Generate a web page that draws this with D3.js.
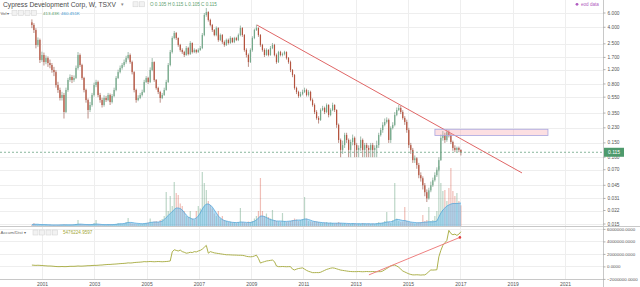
<!DOCTYPE html>
<html><head><meta charset="utf-8">
<script src="https://cdn.jsdelivr.net/npm/d3@7"></script>
<style>html,body{margin:0;padding:0;background:#fff;overflow:hidden}svg{display:block;font-family:"Liberation Sans",Arial,sans-serif}</style>
</head><body><svg id="c" width="640" height="287"></svg>
<script>
// ---------- data (4-week candles) ----------
const startDate = "2000-08-13";
const stepDays = 28;
const firstOpen = 4.60;
const closes = [
4.27,3.70,2.42,2.79,1.58,1.82,1.49,1.67,1.45,1.37,
1.19,1.12,0.776,0.674,0.537,0.585,0.361,0.674,0.896,0.975,
0.896,0.948,1.26,1.82,1.37,0.948,0.674,0.507,0.382,0.440,
0.585,0.776,0.846,0.585,0.507,0.440,0.537,0.507,0.585,0.479,
0.568,0.674,0.948,1.12,1.26,1.37,1.49,1.67,1.82,1.49,
1.12,0.674,0.507,0.537,0.585,0.637,0.846,0.948,0.846,1.19,
1.49,0.896,0.713,0.637,0.537,0.585,0.674,0.846,1.37,1.98,
2.95,3.40,2.95,2.42,2.10,1.98,1.82,2.22,1.87,2.56,
1.98,2.10,1.98,2.10,2.22,3.21,5.67,6.17,4.92,4.27,
3.70,3.21,3.92,2.79,3.21,2.63,2.42,2.79,2.56,2.95,
2.63,2.95,2.79,3.21,3.92,3.21,2.10,1.82,1.49,2.10,
2.95,3.70,3.92,3.21,2.42,2.10,1.82,2.10,1.82,2.22,
2.42,1.82,1.49,1.98,1.82,1.87,1.98,1.67,1.49,1.19,
1.03,0.713,0.637,0.568,0.602,0.637,0.674,0.585,0.637,0.507,
0.440,0.361,0.304,0.288,0.382,0.404,0.361,0.440,0.332,0.382,
0.440,0.382,0.250,0.163,0.123,0.141,0.188,0.163,0.123,0.154,
0.173,0.141,0.123,0.130,0.163,0.123,0.141,0.130,0.123,0.141,
0.123,0.130,0.141,0.188,0.216,0.250,0.272,0.288,0.163,0.229,
0.250,0.332,0.382,0.404,0.361,0.304,0.272,0.216,0.141,0.123,
0.092,0.097,0.080,0.060,0.055,0.045,0.037,0.031,0.039,0.045,
0.052,0.060,0.070,0.092,0.173,0.188,0.163,0.205,0.188,0.154,
0.130,0.123,0.130,0.123,0.115];
const highs = [
5.0,4.5,3.9,3.0,2.9,2.0,1.95,1.8,1.75,1.6,
1.45,1.3,1.18,0.85,0.72,0.64,0.62,0.72,0.95,1.05,
1.03,1.02,1.35,1.98,1.9,1.42,0.98,0.70,0.53,0.48,
0.62,0.83,0.90,0.88,0.62,0.54,0.58,0.57,0.62,0.61,
0.60,0.72,1.0,1.2,1.35,1.45,1.6,1.78,1.98,1.9,
1.55,1.15,0.70,0.58,0.62,0.68,0.90,1.0,0.98,1.28,
1.67,1.52,0.92,0.74,0.66,0.62,0.72,0.9,1.45,2.1,
3.1,3.6,3.5,3.0,2.5,2.2,2.05,2.35,2.3,2.7,
2.6,2.2,2.15,2.2,2.35,3.4,6.0,6.9,6.3,5.1,
4.4,3.8,4.1,4.0,3.35,3.3,2.75,2.9,2.9,3.1,
3.0,3.05,3.05,3.35,4.2,4.0,3.3,2.2,1.9,2.2,
3.1,3.85,4.3,4.0,3.3,2.5,2.2,2.2,2.15,2.35,
2.56,2.5,1.9,2.05,2.05,1.95,2.05,2.02,1.72,1.55,
1.22,1.06,0.74,0.66,0.64,0.68,0.72,0.70,0.67,0.66,
0.53,0.46,0.38,0.32,0.40,0.43,0.42,0.46,0.45,0.40,
0.47,0.45,0.39,0.26,0.17,0.16,0.20,0.20,0.17,0.165,
0.19,0.18,0.15,0.14,0.18,0.17,0.15,0.15,0.14,0.15,
0.15,0.14,0.16,0.20,0.23,0.27,0.30,0.31,0.30,0.24,
0.27,0.36,0.41,0.44,0.43,0.38,0.32,0.29,0.23,0.15,
0.13,0.105,0.10,0.085,0.065,0.058,0.048,0.04,0.042,0.05,
0.056,0.065,0.075,0.10,0.19,0.21,0.20,0.22,0.215,0.195,
0.16,0.14,0.135,0.135,0.125];
const lows = [
3.9,3.4,2.2,2.3,1.45,1.5,1.35,1.4,1.3,1.25,
1.1,1.0,0.72,0.62,0.50,0.50,0.30,0.35,0.64,0.85,
0.82,0.85,0.92,1.2,1.3,0.9,0.63,0.47,0.30,0.36,
0.42,0.56,0.73,0.55,0.47,0.41,0.42,0.48,0.49,0.44,
0.46,0.55,0.65,0.92,1.08,1.2,1.3,1.42,1.6,1.42,
1.05,0.63,0.47,0.49,0.52,0.56,0.62,0.82,0.8,0.82,
1.15,0.85,0.68,0.6,0.47,0.52,0.57,0.66,0.82,1.32,
1.9,2.85,2.8,2.3,2.0,1.88,1.72,1.78,1.8,1.82,
1.9,1.92,1.9,1.93,2.05,2.15,3.1,5.4,4.7,4.1,
3.5,3.1,3.1,2.65,2.7,2.5,2.3,2.35,2.45,2.5,
2.55,2.55,2.7,2.7,3.1,3.05,2.0,1.7,1.3,1.45,
2.0,2.85,3.6,3.05,2.3,2.0,1.72,1.78,1.75,1.78,
2.15,1.75,1.42,1.45,1.75,1.75,1.8,1.6,1.42,1.12,
0.97,0.68,0.6,0.54,0.55,0.58,0.62,0.56,0.56,0.49,
0.42,0.34,0.29,0.26,0.28,0.37,0.34,0.35,0.31,0.32,
0.37,0.36,0.23,0.15,0.10,0.11,0.13,0.15,0.10,0.10,
0.14,0.10,0.10,0.10,0.12,0.10,0.10,0.10,0.10,0.10,
0.10,0.10,0.10,0.13,0.18,0.20,0.24,0.26,0.15,0.15,
0.22,0.24,0.32,0.37,0.34,0.29,0.25,0.20,0.13,0.11,
0.085,0.085,0.072,0.055,0.05,0.04,0.033,0.028,0.03,0.037,
0.043,0.05,0.057,0.067,0.09,0.16,0.15,0.155,0.175,0.145,
0.12,0.115,0.115,0.115,0.105];
// volume, thousands of shares
const volumes = [
20,60,30,25,20,20,15,20,15,20,
15,20,15,20,25,20,30,25,20,20,
20,25,40,120,40,30,25,20,30,25,
30,60,120,30,25,20,25,20,30,25,
25,30,40,60,50,40,45,80,160,60,
50,40,35,40,35,40,50,60,70,150,
80,90,100,80,120,140,200,680,300,600,
400,880,660,620,450,400,300,200,180,300,
150,120,300,400,350,1080,860,720,500,420,
350,250,200,300,150,200,120,100,80,90,
70,80,60,80,360,80,70,60,90,80,
100,150,200,300,960,300,200,250,180,150,
320,120,100,90,80,260,100,80,90,100,
120,150,130,100,120,140,580,150,100,90,
80,100,90,80,70,60,70,80,60,70,
60,50,60,80,60,50,60,40,50,40,
60,50,40,50,40,60,50,40,50,40,
50,40,60,80,60,70,100,280,80,60,
120,860,150,100,80,90,380,100,80,70,
60,50,60,70,80,220,100,120,380,100,
120,200,300,1200,860,700,720,500,760,1160,
700,600,660,500,413];
// volume moving average, thousands
const volumeMA = [
30,35,35,35,30,30,28,28,25,25,
22,22,22,22,22,24,24,24,24,24,
24,26,30,36,38,36,32,30,28,28,
30,34,40,38,34,30,28,28,28,28,
28,30,34,40,44,46,50,60,70,72,
70,62,56,52,48,46,48,54,60,70,
76,80,80,80,86,96,130,170,210,250,
290,330,360,360,350,320,270,220,180,160,
140,140,160,200,260,340,400,440,440,420,
380,320,260,200,160,130,110,100,90,80,
74,70,70,72,80,80,76,72,70,72,
80,96,120,160,200,200,190,170,150,130,
120,110,100,100,100,96,92,92,96,100,
106,112,118,120,120,126,140,140,130,116,
100,90,84,78,72,68,64,62,60,58,
56,56,56,58,58,56,54,52,50,48,
48,48,46,46,46,46,46,46,46,44,
44,44,46,50,56,60,68,80,84,86,
92,120,130,130,120,110,110,100,90,80,
74,70,66,66,66,72,76,80,84,84,
84,88,100,180,260,320,360,400,420,440,
450,450,450,455,460];
// Accumulation/Distribution, millions
const accDist = [
0.15,0.12,0.10,0.12,0.10,0.08,0.05,0.03,0.00,0.00,
-0.02,-0.05,-0.08,-0.10,-0.10,-0.08,-0.10,-0.10,-0.08,-0.05,
-0.05,-0.05,-0.03,0.00,-0.02,-0.02,0.00,0.02,0.05,0.05,
0.08,0.10,0.10,0.12,0.15,0.16,0.20,0.22,0.25,0.25,
0.28,0.30,0.32,0.35,0.38,0.40,0.42,0.45,0.50,0.48,
0.50,0.55,0.58,0.60,0.62,0.65,0.70,0.68,0.70,0.72,
0.70,0.68,0.70,0.72,0.70,0.68,0.70,0.72,0.75,0.80,
2.26,2.60,2.50,2.40,2.55,2.30,2.20,2.05,2.10,2.20,
2.15,2.30,2.25,2.40,2.50,2.70,3.00,3.30,2.05,2.30,
2.20,2.10,2.05,2.00,1.95,1.90,1.85,1.80,1.80,1.78,
1.76,1.75,1.74,1.72,1.72,1.70,1.65,1.55,1.50,1.47,
1.50,1.60,1.74,1.20,0.47,0.60,0.70,0.80,0.85,0.90,
0.95,0.70,0.00,-0.10,-0.10,-0.08,-0.10,-0.12,-0.10,-0.10,
-0.50,-0.63,-0.50,-0.40,-0.35,-0.30,-0.50,-0.70,-0.85,-0.95,
-1.06,-1.06,-1.05,-1.06,-1.00,-0.85,-0.70,-0.55,-0.45,-0.35,
-0.30,-0.35,-0.45,-0.55,-0.65,-0.70,-0.75,-0.80,-0.85,-0.88,
-0.90,-0.90,-0.90,-0.88,-0.90,-0.92,-0.90,-0.88,-0.90,-0.90,
-0.88,-0.90,-0.92,-0.90,-0.90,-0.80,-0.60,-0.40,-0.20,0.00,
0.10,0.16,0.00,-0.20,-0.50,-0.80,-0.95,-1.10,-1.25,-1.35,
-1.42,-1.42,-1.40,-1.42,-1.45,-1.42,-1.42,-1.20,-0.90,-0.63,
-0.65,-0.63,-0.60,1.47,2.50,3.30,3.70,4.10,5.70,5.20,
5.00,5.10,4.90,5.10,5.48];

const priceTicks = [6,4,2.5,1.7,1.2,0.8,0.55,0.35,0.23,0.15,0.1,0.07,0.045,0.031,0.022,0.015];
const adTicks = [6,4,2,0,-2];
const yearTicks = [2001,2003,2005,2007,2009,2011,2013,2015,2017,2019,2021];
const lastPrice = 0.115;
const trendLine = [["2009-03-21",4.27],["2019-05-11",0.064]];
const zone = {d0:"2016-01-11", d1:"2020-05-08", p0:0.221, p1:0.185};
const adArrow = [["2013-07-03",-1.42],["2016-12-25",4.58]];
const title = "Cypress Development Corp, W, TSXV";
const ohlcLabel = [["O","0.105"],["H","0.115"],["L","0.105"],["C","0.115"]];
const volLabels = ["413.43K","460.451K"];
const adLabel = "5476224.9597";

// ---------- layout ----------
const svg = d3.select("#c");
const W = 640, axisX = 603, mainBottom = 226, lowTop = 226, lowBottom = 279;
const parse = d3.utcParse("%Y-%m-%d");
const x = d3.scaleUtc().domain([new Date(Date.UTC(2001,0,1)), new Date(Date.UTC(2021,0,1))]).range([42,565]);
const y = d3.scaleLog().domain([6,0.015]).range([13,224]);
const yVol = d3.scaleLinear().domain([0,1200]).range([mainBottom,166]);
const yAD = d3.scaleLinear().domain([-2,6]).range([278.5,228.5]);

const n = Math.min(closes.length, highs.length, lows.length, volumes.length, volumeMA.length, accDist.length);
const t0 = parse(startDate);
const candles = d3.range(n).map(i => ({
  date: d3.utcDay.offset(t0, i*stepDays),
  o: i === 0 ? firstOpen : closes[i-1], h: highs[i], l: lows[i], c: closes[i],
  v: volumes[i], vma: volumeMA[i], ad: accDist[i]
}));

const defs = svg.append("defs");
defs.append("clipPath").attr("id","mainClip").append("rect").attr("x",0).attr("y",0).attr("width",axisX).attr("height",mainBottom);
defs.append("clipPath").attr("id","lowClip").append("rect").attr("x",0).attr("y",lowTop).attr("width",axisX).attr("height",lowBottom-lowTop);

// grid
const grid = svg.append("g").attr("stroke","#eeeeee").attr("stroke-width",1).attr("shape-rendering","crispEdges");
grid.selectAll("line.v").data(yearTicks).join("line")
  .attr("x1",d=>Math.round(x(new Date(Date.UTC(d,0,1))))+0.5).attr("x2",d=>Math.round(x(new Date(Date.UTC(d,0,1))))+0.5)
  .attr("y1",0).attr("y2",lowBottom);
grid.selectAll("line.h").data(priceTicks).join("line")
  .attr("x1",0).attr("x2",axisX).attr("y1",d=>Math.round(y(d))+0.5).attr("y2",d=>Math.round(y(d))+0.5);
grid.selectAll("line.a").data(adTicks).join("line")
  .attr("x1",0).attr("x2",axisX).attr("y1",d=>Math.round(yAD(d))+0.5).attr("y2",d=>Math.round(yAD(d))+0.5);

// main pane
const main = svg.append("g").attr("clip-path","url(#mainClip)");
// volume bars
main.append("g").selectAll("rect").data(candles).join("rect")
  .attr("x",d=>x(d.date)-0.6).attr("width",1.2)
  .attr("y",d=>yVol(d.v)).attr("height",d=>yVol(0)-yVol(d.v))
  .attr("fill",d=>d.c>=d.o?"rgba(107,165,131,0.45)":"rgba(215,84,66,0.38)");
// volume MA area
main.append("path").datum(candles)
  .attr("d",d3.area().x(d=>x(d.date)).y0(yVol(0)).y1(d=>yVol(d.vma)))
  .attr("fill","rgba(100,186,236,0.5)");
main.append("path").datum(candles)
  .attr("d",d3.line().x(d=>x(d.date)).y(d=>yVol(d.vma)))
  .attr("fill","none").attr("stroke","#4aa0d8").attr("stroke-width",0.7);

// candles
const up="#74a98a", dn="#b5533e";
main.append("g").selectAll("line").data(candles).join("line")
  .attr("x1",d=>x(d.date)).attr("x2",d=>x(d.date))
  .attr("y1",d=>y(d.h)).attr("y2",d=>y(d.l))
  .attr("stroke",d=>d.c>=d.o?"#5f8f73":"#8f4536").attr("stroke-width",0.6);
main.append("g").selectAll("rect").data(candles).join("rect")
  .attr("x",d=>x(d.date)-0.6).attr("width",1.2)
  .attr("y",d=>y(Math.max(d.o,d.c))).attr("height",d=>Math.max(0.8,Math.abs(y(d.o)-y(d.c))))
  .attr("fill",d=>d.c>=d.o?up:dn);

// last price dashed line
main.append("line").attr("x1",0).attr("x2",axisX).attr("y1",y(lastPrice)).attr("y2",y(lastPrice))
  .attr("stroke","#6ba583").attr("stroke-width",0.8).attr("stroke-dasharray","2,2");

// trend line
main.append("line")
  .attr("x1",x(parse(trendLine[0][0]))).attr("y1",y(trendLine[0][1]))
  .attr("x2",x(parse(trendLine[1][0]))).attr("y2",y(trendLine[1][1]))
  .attr("stroke","#e06666").attr("stroke-width",1);
// zone rectangle
main.append("rect")
  .attr("x",x(parse(zone.d0))).attr("width",x(parse(zone.d1))-x(parse(zone.d0)))
  .attr("y",y(zone.p0)).attr("height",y(zone.p1)-y(zone.p0))
  .attr("fill","rgba(245,150,160,0.3)").attr("stroke","#a9a6e0").attr("stroke-width",0.8);

// lower pane
const low = svg.append("g").attr("clip-path","url(#lowClip)");
low.append("path").datum(candles)
  .attr("d",d3.line().x(d=>x(d.date)).y(d=>yAD(d.ad)))
  .attr("fill","none").attr("stroke","#a4a83a").attr("stroke-width",0.9);
low.append("line")
  .attr("x1",x(parse(adArrow[0][0]))).attr("y1",yAD(adArrow[0][1]))
  .attr("x2",x(parse(adArrow[1][0]))).attr("y2",yAD(adArrow[1][1]))
  .attr("stroke","#ee8080").attr("stroke-width",1);
low.append("circle").attr("cx",x(parse(adArrow[1][0]))).attr("cy",yAD(adArrow[1][1])).attr("r",1.3).attr("fill","#e04040");

// separators / frame
svg.append("line").attr("x1",0).attr("x2",W).attr("y1",226.5).attr("y2",226.5).attr("stroke","#c8c8c8");
svg.append("line").attr("x1",0).attr("x2",axisX).attr("y1",279.5).attr("y2",279.5).attr("stroke","#c8c8c8");
svg.append("line").attr("x1",axisX+0.5).attr("x2",axisX+0.5).attr("y1",0).attr("y2",287).attr("stroke","#c8c8c8");

// axes
function styleAxis(fs){
  return g => {
    g.select(".domain").remove();
    g.selectAll(".tick line").attr("stroke","#b0b0b0");
    g.selectAll(".tick text").attr("fill","#555").attr("font-size",fs).attr("font-family","Liberation Sans, Arial, sans-serif");
  };
}
svg.append("g").attr("transform",`translate(${axisX},-0.5)`)
  .call(d3.axisRight(y).tickValues(priceTicks).tickFormat(d3.format(".3f")).tickSize(2.5).tickPadding(2))
  .call(styleAxis("4.8px"));
svg.append("g").attr("transform",`translate(${axisX},0.4)`)
  .call(d3.axisRight(yAD).tickValues(adTicks).tickFormat(d=>d3.format(".4f")(d*1e6)).tickSize(2.5).tickPadding(1.5))
  .call(styleAxis("4.4px"));
svg.append("g").attr("transform",`translate(0,${lowBottom})`)
  .call(d3.axisBottom(x).tickValues(yearTicks.map(yv=>new Date(Date.UTC(yv,0,1)))).tickFormat(d3.utcFormat("%Y")).tickSize(0).tickPadding(3))
  .call(styleAxis("5px"));

// last price tag
const tag = svg.append("g").attr("transform",`translate(${axisX+1},${y(lastPrice)})`);
tag.append("rect").attr("x",0).attr("y",-4.5).attr("width",20).attr("height",9).attr("fill","#4e9a6c");
tag.append("text").attr("x",4).attr("y",0).attr("dy","0.35em").attr("fill","#fff").attr("font-size","5px").text(d3.format(".3f")(lastPrice));

// header
svg.append("text").attr("x",3).attr("y",6.5).attr("font-size","6.7px").attr("fill","#4a4a4a").text(title);
svg.append("text").attr("x",121).attr("y",6).attr("font-size","4.5px").attr("fill","#888").text("▾");
function icons(x0,yy,k){
  for(let i=0;i<k;i++) svg.append("rect").attr("x",x0+i*6.5).attr("y",yy).attr("width",5).attr("height",5)
    .attr("fill","#f2f2f2").attr("stroke","#d0d0d0").attr("stroke-width",0.5);
}
icons(133,1.8,2);
const oh = svg.append("text").attr("x",150).attr("y",6).attr("font-size","4.6px").attr("fill","#5aa06e");
ohlcLabel.forEach(([k,v])=>{ oh.append("tspan").text(k+" "+v+"  "); });
svg.append("text").attr("x",0.5).attr("y",14.5).attr("font-size","4.2px").attr("fill","#666").text("Vol ▾");
icons(12,10.5,4);
svg.append("text").attr("x",43).attr("y",14.5).attr("font-size","4.4px").attr("fill","#5aa06e").text(volLabels[0]);
svg.append("text").attr("x",61).attr("y",14.5).attr("font-size","4.4px").attr("fill","#3a94d0").text(volLabels[1]);
svg.append("text").attr("x",0.5).attr("y",234).attr("font-size","4.4px").attr("fill","#666").text("Accum/Dist ▾");
icons(33,230,4);
svg.append("text").attr("x",63).attr("y",234).attr("font-size","4.6px").attr("fill","#a4a83a").text(adLabel);
svg.append("circle").attr("cx",577).attr("cy",4.3).attr("r",1.4).attr("fill","#b05cc0");
svg.append("text").attr("x",581).attr("y",6).attr("font-size","4.6px").attr("fill","#b05cc0").text("eod data");
</script>
</body></html>
